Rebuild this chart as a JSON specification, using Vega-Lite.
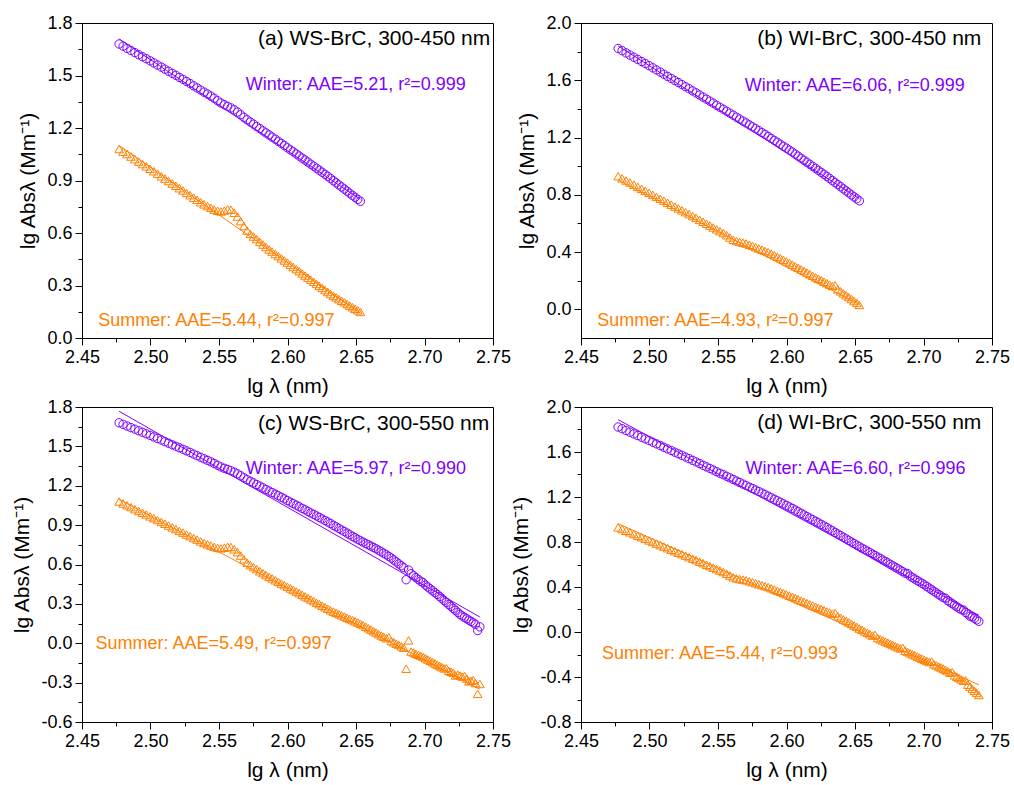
{
"$schema":"https://vega.github.io/schema/vega-lite/v6.json",
"padding":{"left":11,"top":13,"right":5,"bottom":5},
"config":{"font":"Liberation Sans","view":{"stroke":"#000","strokeWidth":1},
"axis":{"grid":false,"domainColor":"#000","tickColor":"#000","labelColor":"#000","titleColor":"#000","labelFont":"Liberation Sans","titleFont":"Liberation Sans","labelFontSize":18,"titleFontSize":21,"titleFontWeight":"normal","tickSize":7,"labelPadding":3,"titlePadding":8,"domainWidth":1,"tickWidth":1,"labelFlush":false,"labelOverlap":false}},
"datasets":{
"wsw":[{"x":2.4771,"y":1.680},{"x":2.4800,"y":1.668},{"x":2.4829,"y":1.655},{"x":2.4857,"y":1.643},{"x":2.4886,"y":1.631},{"x":2.4914,"y":1.619},{"x":2.4942,"y":1.607},{"x":2.4969,"y":1.596},{"x":2.4997,"y":1.584},{"x":2.5024,"y":1.572},
{"x":2.5051,"y":1.560},{"x":2.5079,"y":1.548},{"x":2.5105,"y":1.536},{"x":2.5132,"y":1.524},{"x":2.5159,"y":1.512},{"x":2.5185,"y":1.501},{"x":2.5211,"y":1.489},{"x":2.5237,"y":1.478},{"x":2.5263,"y":1.466},{"x":2.5289,"y":1.454},
{"x":2.5315,"y":1.441},{"x":2.5340,"y":1.429},{"x":2.5366,"y":1.417},{"x":2.5391,"y":1.405},{"x":2.5416,"y":1.394},{"x":2.5441,"y":1.382},{"x":2.5465,"y":1.370},{"x":2.5490,"y":1.356},{"x":2.5514,"y":1.343},{"x":2.5539,"y":1.333},
{"x":2.5563,"y":1.324},{"x":2.5587,"y":1.315},{"x":2.5611,"y":1.304},{"x":2.5635,"y":1.291},{"x":2.5658,"y":1.276},{"x":2.5682,"y":1.261},{"x":2.5705,"y":1.247},{"x":2.5729,"y":1.234},{"x":2.5752,"y":1.222},{"x":2.5775,"y":1.209},
{"x":2.5798,"y":1.197},{"x":2.5821,"y":1.184},{"x":2.5843,"y":1.172},{"x":2.5866,"y":1.160},{"x":2.5888,"y":1.148},{"x":2.5911,"y":1.136},{"x":2.5933,"y":1.124},{"x":2.5955,"y":1.112},{"x":2.5977,"y":1.100},{"x":2.5999,"y":1.087},
{"x":2.6021,"y":1.075},{"x":2.6042,"y":1.064},{"x":2.6064,"y":1.052},{"x":2.6085,"y":1.040},{"x":2.6107,"y":1.028},{"x":2.6128,"y":1.017},{"x":2.6149,"y":1.005},{"x":2.6170,"y":0.993},{"x":2.6191,"y":0.982},{"x":2.6212,"y":0.970},
{"x":2.6232,"y":0.959},{"x":2.6253,"y":0.947},{"x":2.6274,"y":0.935},{"x":2.6294,"y":0.924},{"x":2.6314,"y":0.912},{"x":2.6335,"y":0.899},{"x":2.6355,"y":0.887},{"x":2.6375,"y":0.875},{"x":2.6395,"y":0.863},{"x":2.6415,"y":0.851},
{"x":2.6435,"y":0.839},{"x":2.6454,"y":0.827},{"x":2.6474,"y":0.815},{"x":2.6493,"y":0.804},{"x":2.6513,"y":0.792},{"x":2.6532,"y":0.781},{"x":2.6551,"y":0.771},{"x":2.6571,"y":0.760},{"x":2.6590,"y":0.750},{"x":2.6609,"y":0.740},
{"x":2.6628,"y":0.730},{"x":2.6646,"y":0.720},{"x":2.6665,"y":0.709},{"x":2.6684,"y":0.697},{"x":2.6702,"y":0.686},{"x":2.6721,"y":0.674},{"x":2.6739,"y":0.662},{"x":2.6758,"y":0.649},{"x":2.6776,"y":0.634},{"x":2.6794,"y":0.620},
{"x":2.6812,"y":0.605},{"x":2.6830,"y":0.591},{"x":2.6848,"y":0.576},{"x":2.6866,"y":0.484},{"x":2.6884,"y":0.558},{"x":2.6902,"y":0.530},{"x":2.6920,"y":0.515},{"x":2.6937,"y":0.501},{"x":2.6955,"y":0.486},{"x":2.6972,"y":0.472},
{"x":2.6990,"y":0.462},{"x":2.7007,"y":0.443},{"x":2.7024,"y":0.429},{"x":2.7042,"y":0.414},{"x":2.7059,"y":0.400},{"x":2.7076,"y":0.386},{"x":2.7093,"y":0.372},{"x":2.7110,"y":0.356},{"x":2.7126,"y":0.342},{"x":2.7143,"y":0.326},
{"x":2.7160,"y":0.311},{"x":2.7177,"y":0.295},{"x":2.7193,"y":0.281},{"x":2.7210,"y":0.265},{"x":2.7226,"y":0.251},{"x":2.7243,"y":0.235},{"x":2.7259,"y":0.220},{"x":2.7275,"y":0.208},{"x":2.7292,"y":0.197},{"x":2.7308,"y":0.187},
{"x":2.7324,"y":0.176},{"x":2.7340,"y":0.166},{"x":2.7356,"y":0.156},{"x":2.7372,"y":0.144},{"x":2.7388,"y":0.097},{"x":2.7404,"y":0.125}],
"wss":[{"x":2.4771,"y":1.080},{"x":2.4800,"y":1.065},{"x":2.4829,"y":1.051},{"x":2.4857,"y":1.037},{"x":2.4886,"y":1.022},{"x":2.4914,"y":1.008},{"x":2.4942,"y":0.994},{"x":2.4969,"y":0.981},{"x":2.4997,"y":0.967},{"x":2.5024,"y":0.953},
{"x":2.5051,"y":0.939},{"x":2.5079,"y":0.924},{"x":2.5105,"y":0.911},{"x":2.5132,"y":0.897},{"x":2.5159,"y":0.883},{"x":2.5185,"y":0.870},{"x":2.5211,"y":0.856},{"x":2.5237,"y":0.843},{"x":2.5263,"y":0.829},{"x":2.5289,"y":0.816},
{"x":2.5315,"y":0.802},{"x":2.5340,"y":0.790},{"x":2.5366,"y":0.776},{"x":2.5391,"y":0.764},{"x":2.5416,"y":0.754},{"x":2.5441,"y":0.744},{"x":2.5465,"y":0.734},{"x":2.5490,"y":0.727},{"x":2.5514,"y":0.723},{"x":2.5539,"y":0.728},
{"x":2.5563,"y":0.735},{"x":2.5587,"y":0.733},{"x":2.5611,"y":0.716},{"x":2.5635,"y":0.694},{"x":2.5658,"y":0.668},{"x":2.5682,"y":0.640},{"x":2.5705,"y":0.614},{"x":2.5729,"y":0.595},{"x":2.5752,"y":0.580},{"x":2.5775,"y":0.565},
{"x":2.5798,"y":0.549},{"x":2.5821,"y":0.534},{"x":2.5843,"y":0.520},{"x":2.5866,"y":0.506},{"x":2.5888,"y":0.494},{"x":2.5911,"y":0.480},{"x":2.5933,"y":0.468},{"x":2.5955,"y":0.455},{"x":2.5977,"y":0.443},{"x":2.5999,"y":0.431},
{"x":2.6021,"y":0.418},{"x":2.6042,"y":0.406},{"x":2.6064,"y":0.394},{"x":2.6085,"y":0.382},{"x":2.6107,"y":0.369},{"x":2.6128,"y":0.357},{"x":2.6149,"y":0.345},{"x":2.6170,"y":0.333},{"x":2.6191,"y":0.321},{"x":2.6212,"y":0.309},
{"x":2.6232,"y":0.298},{"x":2.6253,"y":0.286},{"x":2.6274,"y":0.274},{"x":2.6294,"y":0.263},{"x":2.6314,"y":0.251},{"x":2.6335,"y":0.241},{"x":2.6355,"y":0.232},{"x":2.6375,"y":0.222},{"x":2.6395,"y":0.213},{"x":2.6415,"y":0.204},
{"x":2.6435,"y":0.194},{"x":2.6454,"y":0.185},{"x":2.6474,"y":0.176},{"x":2.6493,"y":0.167},{"x":2.6513,"y":0.158},{"x":2.6532,"y":0.149},{"x":2.6551,"y":0.138},{"x":2.6571,"y":0.126},{"x":2.6590,"y":0.115},{"x":2.6609,"y":0.104},
{"x":2.6628,"y":0.092},{"x":2.6646,"y":0.082},{"x":2.6665,"y":0.070},{"x":2.6684,"y":0.059},{"x":2.6702,"y":0.049},{"x":2.6721,"y":0.038},{"x":2.6739,"y":0.045},{"x":2.6758,"y":0.017},{"x":2.6776,"y":0.007},{"x":2.6794,"y":-0.003},
{"x":2.6812,"y":-0.013},{"x":2.6830,"y":-0.024},{"x":2.6848,"y":-0.034},{"x":2.6866,"y":-0.194},{"x":2.6884,"y":0.022},{"x":2.6902,"y":-0.063},{"x":2.6920,"y":-0.071},{"x":2.6937,"y":-0.080},{"x":2.6955,"y":-0.088},{"x":2.6972,"y":-0.096},
{"x":2.6990,"y":-0.105},{"x":2.7007,"y":-0.114},{"x":2.7024,"y":-0.124},{"x":2.7042,"y":-0.134},{"x":2.7059,"y":-0.144},{"x":2.7076,"y":-0.154},{"x":2.7093,"y":-0.163},{"x":2.7110,"y":-0.173},{"x":2.7126,"y":-0.182},{"x":2.7143,"y":-0.191},
{"x":2.7160,"y":-0.190},{"x":2.7177,"y":-0.210},{"x":2.7193,"y":-0.217},{"x":2.7210,"y":-0.224},{"x":2.7226,"y":-0.245},{"x":2.7243,"y":-0.239},{"x":2.7259,"y":-0.246},{"x":2.7275,"y":-0.254},{"x":2.7292,"y":-0.250},{"x":2.7308,"y":-0.269},
{"x":2.7324,"y":-0.290},{"x":2.7340,"y":-0.286},{"x":2.7356,"y":-0.280},{"x":2.7372,"y":-0.303},{"x":2.7388,"y":-0.385},{"x":2.7404,"y":-0.310}],
"wiw":[{"x":2.4771,"y":1.822},{"x":2.4800,"y":1.807},{"x":2.4829,"y":1.791},{"x":2.4857,"y":1.776},{"x":2.4886,"y":1.761},{"x":2.4914,"y":1.746},{"x":2.4942,"y":1.731},{"x":2.4969,"y":1.717},{"x":2.4997,"y":1.702},{"x":2.5024,"y":1.687},
{"x":2.5051,"y":1.672},{"x":2.5079,"y":1.657},{"x":2.5105,"y":1.642},{"x":2.5132,"y":1.627},{"x":2.5159,"y":1.613},{"x":2.5185,"y":1.598},{"x":2.5211,"y":1.584},{"x":2.5237,"y":1.570},{"x":2.5263,"y":1.555},{"x":2.5289,"y":1.541},
{"x":2.5315,"y":1.526},{"x":2.5340,"y":1.512},{"x":2.5366,"y":1.497},{"x":2.5391,"y":1.482},{"x":2.5416,"y":1.468},{"x":2.5441,"y":1.454},{"x":2.5465,"y":1.440},{"x":2.5490,"y":1.425},{"x":2.5514,"y":1.411},{"x":2.5539,"y":1.398},
{"x":2.5563,"y":1.384},{"x":2.5587,"y":1.370},{"x":2.5611,"y":1.356},{"x":2.5635,"y":1.342},{"x":2.5658,"y":1.329},{"x":2.5682,"y":1.315},{"x":2.5705,"y":1.302},{"x":2.5729,"y":1.288},{"x":2.5752,"y":1.275},{"x":2.5775,"y":1.262},
{"x":2.5798,"y":1.249},{"x":2.5821,"y":1.235},{"x":2.5843,"y":1.222},{"x":2.5866,"y":1.208},{"x":2.5888,"y":1.194},{"x":2.5911,"y":1.180},{"x":2.5933,"y":1.167},{"x":2.5955,"y":1.153},{"x":2.5977,"y":1.139},{"x":2.5999,"y":1.126},
{"x":2.6021,"y":1.112},{"x":2.6042,"y":1.099},{"x":2.6064,"y":1.084},{"x":2.6085,"y":1.070},{"x":2.6107,"y":1.055},{"x":2.6128,"y":1.041},{"x":2.6149,"y":1.027},{"x":2.6170,"y":1.013},{"x":2.6191,"y":0.999},{"x":2.6212,"y":0.985},
{"x":2.6232,"y":0.971},{"x":2.6253,"y":0.957},{"x":2.6274,"y":0.943},{"x":2.6294,"y":0.929},{"x":2.6314,"y":0.915},{"x":2.6335,"y":0.900},{"x":2.6355,"y":0.885},{"x":2.6375,"y":0.871},{"x":2.6395,"y":0.857},{"x":2.6415,"y":0.842},
{"x":2.6435,"y":0.828},{"x":2.6454,"y":0.814},{"x":2.6474,"y":0.800},{"x":2.6493,"y":0.786},{"x":2.6513,"y":0.772},{"x":2.6532,"y":0.758},{"x":2.6551,"y":0.745},{"x":2.6571,"y":0.732},{"x":2.6590,"y":0.719},{"x":2.6609,"y":0.706},
{"x":2.6628,"y":0.693},{"x":2.6646,"y":0.680},{"x":2.6665,"y":0.667},{"x":2.6684,"y":0.654},{"x":2.6702,"y":0.640},{"x":2.6721,"y":0.627},{"x":2.6739,"y":0.615},{"x":2.6758,"y":0.601},{"x":2.6776,"y":0.588},{"x":2.6794,"y":0.576},
{"x":2.6812,"y":0.563},{"x":2.6830,"y":0.550},{"x":2.6848,"y":0.537},{"x":2.6866,"y":0.523},{"x":2.6884,"y":0.520},{"x":2.6902,"y":0.497},{"x":2.6920,"y":0.483},{"x":2.6937,"y":0.471},{"x":2.6955,"y":0.457},{"x":2.6972,"y":0.445},
{"x":2.6990,"y":0.432},{"x":2.7007,"y":0.419},{"x":2.7024,"y":0.405},{"x":2.7042,"y":0.390},{"x":2.7059,"y":0.376},{"x":2.7076,"y":0.362},{"x":2.7093,"y":0.348},{"x":2.7110,"y":0.334},{"x":2.7126,"y":0.321},{"x":2.7143,"y":0.307},
{"x":2.7160,"y":0.300},{"x":2.7177,"y":0.279},{"x":2.7193,"y":0.266},{"x":2.7210,"y":0.252},{"x":2.7226,"y":0.239},{"x":2.7243,"y":0.225},{"x":2.7259,"y":0.212},{"x":2.7275,"y":0.199},{"x":2.7292,"y":0.195},{"x":2.7308,"y":0.173},
{"x":2.7324,"y":0.160},{"x":2.7340,"y":0.140},{"x":2.7356,"y":0.134},{"x":2.7372,"y":0.121},{"x":2.7388,"y":0.108},{"x":2.7404,"y":0.095}],
"wis":[{"x":2.4771,"y":0.930},{"x":2.4800,"y":0.915},{"x":2.4829,"y":0.900},{"x":2.4857,"y":0.886},{"x":2.4886,"y":0.871},{"x":2.4914,"y":0.856},{"x":2.4942,"y":0.842},{"x":2.4969,"y":0.828},{"x":2.4997,"y":0.814},{"x":2.5024,"y":0.800},
{"x":2.5051,"y":0.786},{"x":2.5079,"y":0.772},{"x":2.5105,"y":0.759},{"x":2.5132,"y":0.745},{"x":2.5159,"y":0.731},{"x":2.5185,"y":0.718},{"x":2.5211,"y":0.705},{"x":2.5237,"y":0.692},{"x":2.5263,"y":0.679},{"x":2.5289,"y":0.665},
{"x":2.5315,"y":0.652},{"x":2.5340,"y":0.639},{"x":2.5366,"y":0.625},{"x":2.5391,"y":0.612},{"x":2.5416,"y":0.598},{"x":2.5441,"y":0.585},{"x":2.5465,"y":0.572},{"x":2.5490,"y":0.559},{"x":2.5514,"y":0.546},{"x":2.5539,"y":0.533},
{"x":2.5563,"y":0.518},{"x":2.5587,"y":0.502},{"x":2.5611,"y":0.486},{"x":2.5635,"y":0.477},{"x":2.5658,"y":0.471},{"x":2.5682,"y":0.466},{"x":2.5705,"y":0.460},{"x":2.5729,"y":0.451},{"x":2.5752,"y":0.443},{"x":2.5775,"y":0.434},
{"x":2.5798,"y":0.425},{"x":2.5821,"y":0.417},{"x":2.5843,"y":0.408},{"x":2.5866,"y":0.400},{"x":2.5888,"y":0.389},{"x":2.5911,"y":0.378},{"x":2.5933,"y":0.367},{"x":2.5955,"y":0.357},{"x":2.5977,"y":0.346},{"x":2.5999,"y":0.335},
{"x":2.6021,"y":0.324},{"x":2.6042,"y":0.313},{"x":2.6064,"y":0.301},{"x":2.6085,"y":0.290},{"x":2.6107,"y":0.279},{"x":2.6128,"y":0.268},{"x":2.6149,"y":0.257},{"x":2.6170,"y":0.246},{"x":2.6191,"y":0.235},{"x":2.6212,"y":0.224},
{"x":2.6232,"y":0.214},{"x":2.6253,"y":0.204},{"x":2.6274,"y":0.193},{"x":2.6294,"y":0.183},{"x":2.6314,"y":0.173},{"x":2.6335,"y":0.163},{"x":2.6355,"y":0.168},{"x":2.6375,"y":0.140},{"x":2.6395,"y":0.126},{"x":2.6415,"y":0.112},
{"x":2.6435,"y":0.099},{"x":2.6454,"y":0.086},{"x":2.6474,"y":0.072},{"x":2.6493,"y":0.058},{"x":2.6513,"y":0.045},{"x":2.6532,"y":0.031},{"x":2.6551,"y":0.019},{"x":2.6571,"y":0.005},{"x":2.6590,"y":-0.007},{"x":2.6609,"y":-0.020},
{"x":2.6628,"y":-0.032},{"x":2.6646,"y":-0.025},{"x":2.6665,"y":-0.054},{"x":2.6684,"y":-0.064},{"x":2.6702,"y":-0.074},{"x":2.6721,"y":-0.085},{"x":2.6739,"y":-0.095},{"x":2.6758,"y":-0.106},{"x":2.6776,"y":-0.116},{"x":2.6794,"y":-0.126},
{"x":2.6812,"y":-0.136},{"x":2.6830,"y":-0.146},{"x":2.6848,"y":-0.140},{"x":2.6866,"y":-0.166},{"x":2.6884,"y":-0.177},{"x":2.6902,"y":-0.188},{"x":2.6920,"y":-0.198},{"x":2.6937,"y":-0.208},{"x":2.6955,"y":-0.218},{"x":2.6972,"y":-0.228},
{"x":2.6990,"y":-0.238},{"x":2.7007,"y":-0.248},{"x":2.7024,"y":-0.257},{"x":2.7042,"y":-0.267},{"x":2.7059,"y":-0.262},{"x":2.7076,"y":-0.287},{"x":2.7093,"y":-0.296},{"x":2.7110,"y":-0.306},{"x":2.7126,"y":-0.315},{"x":2.7143,"y":-0.325},
{"x":2.7160,"y":-0.336},{"x":2.7177,"y":-0.349},{"x":2.7193,"y":-0.361},{"x":2.7210,"y":-0.358},{"x":2.7226,"y":-0.385},{"x":2.7243,"y":-0.397},{"x":2.7259,"y":-0.409},{"x":2.7275,"y":-0.421},{"x":2.7292,"y":-0.433},{"x":2.7308,"y":-0.430},
{"x":2.7324,"y":-0.468},{"x":2.7340,"y":-0.486},{"x":2.7356,"y":-0.505},{"x":2.7372,"y":-0.523},{"x":2.7388,"y":-0.542},{"x":2.7404,"y":-0.560}],
"fit":[{"p":"a","s":"Winter","x":2.4771,"y":1.709},{"p":"a","s":"Winter","x":2.6532,"y":0.793},
{"p":"a","s":"Summer","x":2.4771,"y":1.100},{"p":"a","s":"Summer","x":2.6532,"y":0.142},
{"p":"b","s":"Winter","x":2.4771,"y":1.840},{"p":"b","s":"Winter","x":2.6532,"y":0.773},
{"p":"b","s":"Summer","x":2.4771,"y":0.903},{"p":"b","s":"Summer","x":2.6532,"y":0.035},
{"p":"c","s":"Winter","x":2.4771,"y":1.767},{"p":"c","s":"Winter","x":2.7404,"y":0.200},
{"p":"c","s":"Summer","x":2.4771,"y":1.095},{"p":"c","s":"Summer","x":2.7404,"y":-0.350},
{"p":"d","s":"Winter","x":2.4771,"y":1.887},{"p":"d","s":"Winter","x":2.7404,"y":0.149},
{"p":"d","s":"Summer","x":2.4771,"y":0.963},{"p":"d","s":"Summer","x":2.7404,"y":-0.469}]
},
"columns":2,
"bounds":"flush",
"spacing":{"row":69,"column":88},
"concat":[
{"width":411,"height":315,"resolve":{"axis":{"x":"independent","y":"independent"}},
"layer":[
{"data":{"name":"wsw"},"transform":[{"filter":"datum.x <= 2.6533"}],
"mark":{"type":"point","shape":"circle","filled":false,"color":"#8000FF","size":70,"strokeWidth":1,"opacity":1},
"encoding":{"x":{"field":"x","type":"quantitative","scale":{"domain":[2.45,2.75],"nice":false,"zero":false},"axis":{"orient":"bottom","values":[2.45,2.5,2.55,2.6,2.65,2.7,2.75],"format":".2f","title":"lg λ (nm)","titlePadding":9}},
"y":{"field":"y","type":"quantitative","scale":{"domain":[0,1.8],"nice":false,"zero":false},"axis":{"orient":"left","values":[0,0.3,0.6,0.9,1.2,1.5,1.8],"labelExpr":"replace(format(datum.value,'.1f'),'−','-')","title":"lg Absλ (Mm⁻¹)"}}}},
{"data":{"name":"wss"},"transform":[{"filter":"datum.x <= 2.6533"}],
"mark":{"type":"point","shape":"triangle-up","filled":false,"color":"#FF8000","size":75,"strokeWidth":1,"opacity":1},
"encoding":{"x":{"field":"x","type":"quantitative","axis":{"orient":"bottom","values":[2.475,2.525,2.575,2.625,2.675,2.725],"labels":false,"domain":false,"tickSize":4,"title":null}},
"y":{"field":"y","type":"quantitative","axis":{"orient":"left","values":[0.15,0.45,0.75,1.05,1.35,1.65],"labels":false,"domain":false,"tickSize":4,"title":null}}}},
{"data":{"name":"fit"},"transform":[{"filter":"datum.p == 'a'"}],"mark":{"type":"line","strokeWidth":1},
"encoding":{"x":{"field":"x","type":"quantitative","axis":null},"y":{"field":"y","type":"quantitative","axis":null},"color":{"field":"s","type":"nominal","scale":{"domain":["Winter","Summer"],"range":["#8000FF","#FF8000"]},"legend":null}}},
{"data":{"values":[{}]},"mark":{"type":"text","text":"(a) WS-BrC, 300-450 nm","align":"right","baseline":"alphabetic","fontSize":21,"color":"#000"},"encoding":{"x":{"datum":2.748,"type":"quantitative","axis":null},"y":{"datum":1.677,"type":"quantitative","axis":null}}},
{"data":{"values":[{}]},"mark":{"type":"text","text":"Winter: AAE=5.21, r²=0.999","align":"left","baseline":"alphabetic","fontSize":18,"color":"#8000FF"},"encoding":{"x":{"datum":2.5695,"type":"quantitative","axis":null},"y":{"datum":1.415,"type":"quantitative","axis":null}}},
{"data":{"values":[{}]},"mark":{"type":"text","text":"Summer: AAE=5.44, r²=0.997","align":"left","baseline":"alphabetic","fontSize":18,"color":"#FF8000"},"encoding":{"x":{"datum":2.4619,"type":"quantitative","axis":null},"y":{"datum":0.070,"type":"quantitative","axis":null}}}
]},
{"width":411,"height":315,"resolve":{"axis":{"x":"independent","y":"independent"}},
"layer":[
{"data":{"name":"wiw"},"transform":[{"filter":"datum.x <= 2.6533"}],
"mark":{"type":"point","shape":"circle","filled":false,"color":"#8000FF","size":70,"strokeWidth":1,"opacity":1},
"encoding":{"x":{"field":"x","type":"quantitative","scale":{"domain":[2.45,2.75],"nice":false,"zero":false},"axis":{"orient":"bottom","values":[2.45,2.5,2.55,2.6,2.65,2.7,2.75],"format":".2f","title":"lg λ (nm)","titlePadding":9}},
"y":{"field":"y","type":"quantitative","scale":{"domain":[-0.2,2.0],"nice":false,"zero":false},"axis":{"orient":"left","values":[0,0.4,0.8,1.2,1.6,2.0],"labelExpr":"replace(format(datum.value,'.1f'),'−','-')","title":"lg Absλ (Mm⁻¹)"}}}},
{"data":{"name":"wis"},"transform":[{"filter":"datum.x <= 2.6533"}],
"mark":{"type":"point","shape":"triangle-up","filled":false,"color":"#FF8000","size":75,"strokeWidth":1,"opacity":1},
"encoding":{"x":{"field":"x","type":"quantitative","axis":{"orient":"bottom","values":[2.475,2.525,2.575,2.625,2.675,2.725],"labels":false,"domain":false,"tickSize":4,"title":null}},
"y":{"field":"y","type":"quantitative","axis":{"orient":"left","values":[0.2,0.6,1.0,1.4,1.8],"labels":false,"domain":false,"tickSize":4,"title":null}}}},
{"data":{"name":"fit"},"transform":[{"filter":"datum.p == 'b'"}],"mark":{"type":"line","strokeWidth":1},
"encoding":{"x":{"field":"x","type":"quantitative","axis":null},"y":{"field":"y","type":"quantitative","axis":null},"color":{"field":"s","type":"nominal","scale":{"domain":["Winter","Summer"],"range":["#8000FF","#FF8000"]},"legend":null}}},
{"data":{"values":[{}]},"mark":{"type":"text","text":"(b) WI-BrC, 300-450 nm","align":"right","baseline":"alphabetic","fontSize":21,"color":"#000"},"encoding":{"x":{"datum":2.7422,"type":"quantitative","axis":null},"y":{"datum":1.849,"type":"quantitative","axis":null}}},
{"data":{"values":[{}]},"mark":{"type":"text","text":"Winter: AAE=6.06, r²=0.999","align":"left","baseline":"alphabetic","fontSize":18,"color":"#8000FF"},"encoding":{"x":{"datum":2.5695,"type":"quantitative","axis":null},"y":{"datum":1.528,"type":"quantitative","axis":null}}},
{"data":{"values":[{}]},"mark":{"type":"text","text":"Summer: AAE=4.93, r²=0.997","align":"left","baseline":"alphabetic","fontSize":18,"color":"#FF8000"},"encoding":{"x":{"datum":2.4619,"type":"quantitative","axis":null},"y":{"datum":-0.116,"type":"quantitative","axis":null}}}
]},
{"width":411,"height":315,"resolve":{"axis":{"x":"independent","y":"independent"}},
"layer":[
{"data":{"name":"wsw"},
"mark":{"type":"point","shape":"circle","filled":false,"color":"#8000FF","size":70,"strokeWidth":1,"opacity":1},
"encoding":{"x":{"field":"x","type":"quantitative","scale":{"domain":[2.45,2.75],"nice":false,"zero":false},"axis":{"orient":"bottom","values":[2.45,2.5,2.55,2.6,2.65,2.7,2.75],"format":".2f","title":"lg λ (nm)","titlePadding":9}},
"y":{"field":"y","type":"quantitative","scale":{"domain":[-0.6,1.8],"nice":false,"zero":false},"axis":{"orient":"left","values":[-0.6,-0.3,0,0.3,0.6,0.9,1.2,1.5,1.8],"labelExpr":"replace(format(datum.value,'.1f'),'−','-')","title":"lg Absλ (Mm⁻¹)"}}}},
{"data":{"name":"wss"},
"mark":{"type":"point","shape":"triangle-up","filled":false,"color":"#FF8000","size":75,"strokeWidth":1,"opacity":1},
"encoding":{"x":{"field":"x","type":"quantitative","axis":{"orient":"bottom","values":[2.475,2.525,2.575,2.625,2.675,2.725],"labels":false,"domain":false,"tickSize":4,"title":null}},
"y":{"field":"y","type":"quantitative","axis":{"orient":"left","values":[-0.45,-0.15,0.15,0.45,0.75,1.05,1.35,1.65],"labels":false,"domain":false,"tickSize":4,"title":null}}}},
{"data":{"name":"fit"},"transform":[{"filter":"datum.p == 'c'"}],"mark":{"type":"line","strokeWidth":1},
"encoding":{"x":{"field":"x","type":"quantitative","axis":null},"y":{"field":"y","type":"quantitative","axis":null},"color":{"field":"s","type":"nominal","scale":{"domain":["Winter","Summer"],"range":["#8000FF","#FF8000"]},"legend":null}}},
{"data":{"values":[{}]},"mark":{"type":"text","text":"(c) WS-BrC, 300-550 nm","align":"right","baseline":"alphabetic","fontSize":21,"color":"#000"},"encoding":{"x":{"datum":2.7472,"type":"quantitative","axis":null},"y":{"datum":1.628,"type":"quantitative","axis":null}}},
{"data":{"values":[{}]},"mark":{"type":"text","text":"Winter: AAE=5.97, r²=0.990","align":"left","baseline":"alphabetic","fontSize":18,"color":"#8000FF"},"encoding":{"x":{"datum":2.5696,"type":"quantitative","axis":null},"y":{"datum":1.287,"type":"quantitative","axis":null}}},
{"data":{"values":[{}]},"mark":{"type":"text","text":"Summer: AAE=5.49, r²=0.997","align":"left","baseline":"alphabetic","fontSize":18,"color":"#FF8000"},"encoding":{"x":{"datum":2.4598,"type":"quantitative","axis":null},"y":{"datum":-0.042,"type":"quantitative","axis":null}}}
]},
{"width":411,"height":315,"resolve":{"axis":{"x":"independent","y":"independent"}},
"layer":[
{"data":{"name":"wiw"},
"mark":{"type":"point","shape":"circle","filled":false,"color":"#8000FF","size":70,"strokeWidth":1,"opacity":1},
"encoding":{"x":{"field":"x","type":"quantitative","scale":{"domain":[2.45,2.75],"nice":false,"zero":false},"axis":{"orient":"bottom","values":[2.45,2.5,2.55,2.6,2.65,2.7,2.75],"format":".2f","title":"lg λ (nm)","titlePadding":9}},
"y":{"field":"y","type":"quantitative","scale":{"domain":[-0.8,2.0],"nice":false,"zero":false},"axis":{"orient":"left","values":[-0.8,-0.4,0,0.4,0.8,1.2,1.6,2.0],"labelExpr":"replace(format(datum.value,'.1f'),'−','-')","title":"lg Absλ (Mm⁻¹)"}}}},
{"data":{"name":"wis"},
"mark":{"type":"point","shape":"triangle-up","filled":false,"color":"#FF8000","size":75,"strokeWidth":1,"opacity":1},
"encoding":{"x":{"field":"x","type":"quantitative","axis":{"orient":"bottom","values":[2.475,2.525,2.575,2.625,2.675,2.725],"labels":false,"domain":false,"tickSize":4,"title":null}},
"y":{"field":"y","type":"quantitative","axis":{"orient":"left","values":[-0.6,-0.2,0.2,0.6,1.0,1.4,1.8],"labels":false,"domain":false,"tickSize":4,"title":null}}}},
{"data":{"name":"fit"},"transform":[{"filter":"datum.p == 'd'"}],"mark":{"type":"line","strokeWidth":1},
"encoding":{"x":{"field":"x","type":"quantitative","axis":null},"y":{"field":"y","type":"quantitative","axis":null},"color":{"field":"s","type":"nominal","scale":{"domain":["Winter","Summer"],"range":["#8000FF","#FF8000"]},"legend":null}}},
{"data":{"values":[{}]},"mark":{"type":"text","text":"(d) WI-BrC, 300-550 nm","align":"right","baseline":"alphabetic","fontSize":21,"color":"#000"},"encoding":{"x":{"datum":2.7422,"type":"quantitative","axis":null},"y":{"datum":1.807,"type":"quantitative","axis":null}}},
{"data":{"values":[{}]},"mark":{"type":"text","text":"Winter: AAE=6.60, r²=0.996","align":"left","baseline":"alphabetic","fontSize":18,"color":"#8000FF"},"encoding":{"x":{"datum":2.570,"type":"quantitative","axis":null},"y":{"datum":1.401,"type":"quantitative","axis":null}}},
{"data":{"values":[{}]},"mark":{"type":"text","text":"Summer: AAE=5.44, r²=0.993","align":"left","baseline":"alphabetic","fontSize":18,"color":"#FF8000"},"encoding":{"x":{"datum":2.4653,"type":"quantitative","axis":null},"y":{"datum":-0.243,"type":"quantitative","axis":null}}}
]}
]
}
